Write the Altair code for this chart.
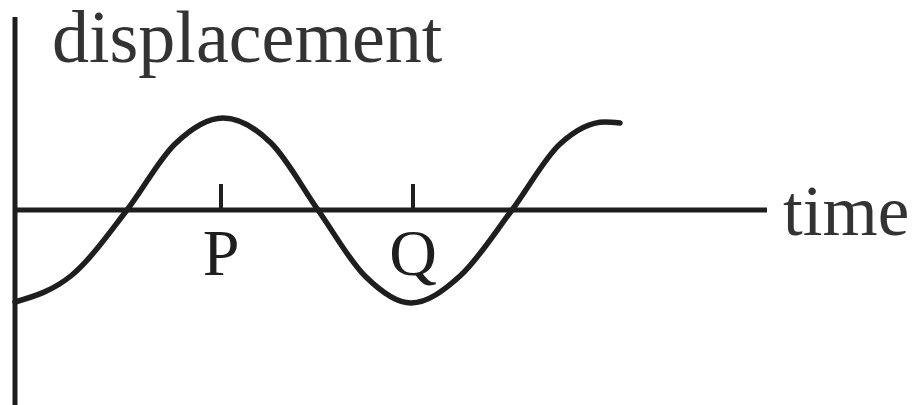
import altair as alt
import pandas as pd

# Curve (time in px from the origin, displacement in px above the time axis)
curve_time = [0, 57, 112, 160, 208, 256, 303, 350, 396, 445, 497, 545, 590, 605]
curve_disp = [-92, -65, 0, 66, 92, 67, 0, -66, -93, -66, 0, 66, 88, 87]

tick_names = ["P", "Q"]
tick_times = [206, 398]

axis_label_x = "time"
axis_label_y = "displacement"

ink = "#1e1e1e"
font = "Liberation Serif"

curve = pd.DataFrame({"t": curve_time, "d": curve_disp})
ticks = pd.DataFrame({"name": tick_names, "t": tick_times})

xs = alt.Scale(domain=[-7, 897], nice=False, zero=False)
ys = alt.Scale(domain=[-195, 202], nice=False, zero=False)
X = lambda f: alt.X(f, scale=xs, axis=None)
Y = lambda f: alt.Y(f, scale=ys, axis=None)

base = alt.Chart(pd.DataFrame({"a": [0]}))

h_axis = base.mark_rule(color=ink, strokeWidth=5).encode(
    x=alt.datum(0, scale=xs, axis=None), x2=alt.datum(752), y=alt.datum(0, scale=ys, axis=None))
v_axis = base.mark_rule(color=ink, strokeWidth=5).encode(
    x=alt.datum(0, scale=xs, axis=None), y=alt.datum(193, scale=ys, axis=None), y2=alt.datum(-200))

tick_rules = alt.Chart(ticks).mark_rule(color=ink, strokeWidth=4).encode(
    x=X("t:Q"), y=alt.datum(26, scale=ys, axis=None), y2=alt.datum(0))
tick_text = alt.Chart(ticks).mark_text(font=font, fontSize=66, color=ink, align="center",
                                       baseline="alphabetic").encode(
    x=X("t:Q"), y=alt.datum(-65, scale=ys, axis=None), text="name:N")

line = alt.Chart(curve).mark_line(color=ink, strokeWidth=5.5, strokeCap="round",
                                  interpolate="monotone").encode(
    x=X("t:Q"), y=Y("d:Q"), order="t:Q")

label_y = base.mark_text(font=font, fontSize=74, color="#333333", align="left",
                         baseline="alphabetic").encode(
    x=alt.datum(37, scale=xs, axis=None), y=alt.datum(148, scale=ys, axis=None),
    text=alt.value(axis_label_y))
label_x = base.mark_text(font=font, fontSize=71, color="#333333", align="left",
                         baseline="alphabetic").encode(
    x=alt.datum(768, scale=xs, axis=None), y=alt.datum(-25, scale=ys, axis=None),
    text=alt.value(axis_label_x))

chart = alt.layer(h_axis, v_axis, tick_rules, line, tick_text, label_y, label_x).properties(
    width=904, height=397, padding=0, autosize=alt.AutoSizeParams(type="none"),
    background="white"
).configure_view(stroke=None)

chart.save("out.html", embed_options={"renderer": "svg", "actions": False})
